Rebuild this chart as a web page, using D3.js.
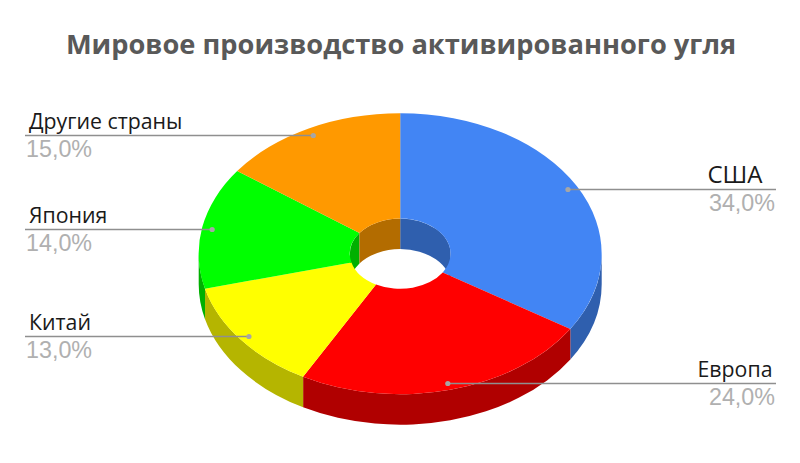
<!DOCTYPE html>
<html>
<head>
<meta charset="utf-8">
<script src="https://cdn.jsdelivr.net/npm/d3@7/dist/d3.min.js"></script>
<style>
    html, body { margin: 0; padding: 0; background: #fff; }
    svg { display: block; }
    .title { font-family: "Open Sans", sans-serif; font-weight: 700; font-size: 27.25px; fill: #595959; }
    .name { font-family: "Open Sans", sans-serif; font-size: 21.3px; fill: #1a1a1a; }
    .pct { font-family: "Liberation Sans", sans-serif; font-size: 23.3px; fill: #b0b0b0; }
</style>
</head>
<body>
<div id="chart"></div>
<script>
// Values, clockwise from 12 o'clock
var categories = ["США", "Европа", "Китай", "Япония", "Другие страны"];
var shares = [34, 24, 13, 14, 15];
var colors = ["#4285f4", "#ff0000", "#ffff00", "#00ff00", "#ff9900"];
var wallColors = ["#2f5fae", "#b00000", "#b5b500", "#00b000", "#b36c00"];

var width = 800, height = 463;
var cx = 400.2, cy = 253.7, rx = 201.5, ry = 140.5;
var holeRatio = 0.25, depth = 30.5, anchorRatio = 0.95;

var svg = d3.select("#chart").append("svg")
    .attr("width", width)
    .attr("height", height);

var slices = d3.pie().sort(null).value(function(d) { return d; })(shares);

// point on the tilted ellipse; angle is clockwise from the top
function pt(angle, ratio, dy) {
    return [cx + rx * ratio * Math.sin(angle), cy - ry * ratio * Math.cos(angle) + (dy || 0)];
}

// band between an elliptical arc and the same arc moved down by depth
function wallPath(a0, a1, ratio) {
    var s = pt(a0, ratio), e = pt(a1, ratio);
    var r = rx * ratio + " " + ry * ratio;
    return "M" + s + "A" + r + " 0 0 1 " + e +
        "L" + pt(a1, ratio, depth) +
        "A" + r + " 0 0 0 " + pt(a0, ratio, depth) + "Z";
}

var tau = 2 * Math.PI;

// inner wall, only the far half of the hole shows
var inner = svg.append("g").attr("class", "inner-wall");
slices.forEach(function(d, i) {
    [[-tau / 4, tau / 4], [3 * tau / 4, tau + tau / 4]].forEach(function(range) {
        var a0 = Math.max(d.startAngle, range[0]), a1 = Math.min(d.endAngle, range[1]);
        if (a1 > a0) {
            inner.append("path").attr("d", wallPath(a0, a1, holeRatio)).attr("fill", wallColors[i]);
        }
    });
});

// outer wall, only the near half shows
var outer = svg.append("g").attr("class", "outer-wall");
slices.forEach(function(d, i) {
    var a0 = Math.max(d.startAngle, tau / 4), a1 = Math.min(d.endAngle, 3 * tau / 4);
    if (a1 > a0) {
        outer.append("path").attr("d", wallPath(a0, a1, 1)).attr("fill", wallColors[i]);
    }
});

// top face: unit arcs squashed into the ellipse
var arc = d3.arc().innerRadius(holeRatio).outerRadius(1);
svg.append("g")
    .attr("transform", "translate(" + cx + "," + cy + ") scale(" + rx + "," + ry + ")")
    .selectAll("path")
    .data(slices)
    .enter()
    .append("path")
    .attr("d", arc)
    .attr("fill", function(d, i) { return colors[i]; });

// leader lines and labels
var leftX = 25, rightX = 776;
var labels = svg.append("g").attr("class", "labels");
slices.forEach(function(d, i) {
    var mid = (d.startAngle + d.endAngle) / 2;
    var p = pt(mid, anchorRatio);
    var onRight = mid < Math.PI;
    var y = Math.round(p[1]) + 0.5;

    labels.append("line")
        .attr("x1", p[0]).attr("y1", y)
        .attr("x2", onRight ? rightX : leftX).attr("y2", y)
        .attr("stroke", "#8f8f8f").attr("stroke-width", 1.4);
    labels.append("circle")
        .attr("cx", p[0]).attr("cy", y).attr("r", 2.6)
        .attr("fill", "#a6a6a6");

    // right-hand names sit centred over their percentages
    var name = labels.append("text")
        .attr("class", "name")
        .attr("x", onRight ? rightX - 41 : leftX + 4)
        .attr("y", y - 7)
        .attr("text-anchor", onRight ? "middle" : "start")
        .text(categories[i]);
    if (categories[i] === "США") name.style("font-size", "24px");

    labels.append("text")
        .attr("class", "pct")
        .attr("x", onRight ? rightX - 1 : leftX + 1)
        .attr("y", y + 21)
        .attr("text-anchor", onRight ? "end" : "start")
        .text(d3.format(".1f")(d.value).replace(".", ",") + "%");
});

svg.append("text")
    .attr("class", "title")
    .attr("x", 401)
    .attr("y", 54)
    .attr("text-anchor", "middle")
    .text("Мировое производство активированного угля");
</script>
</body>
</html>
